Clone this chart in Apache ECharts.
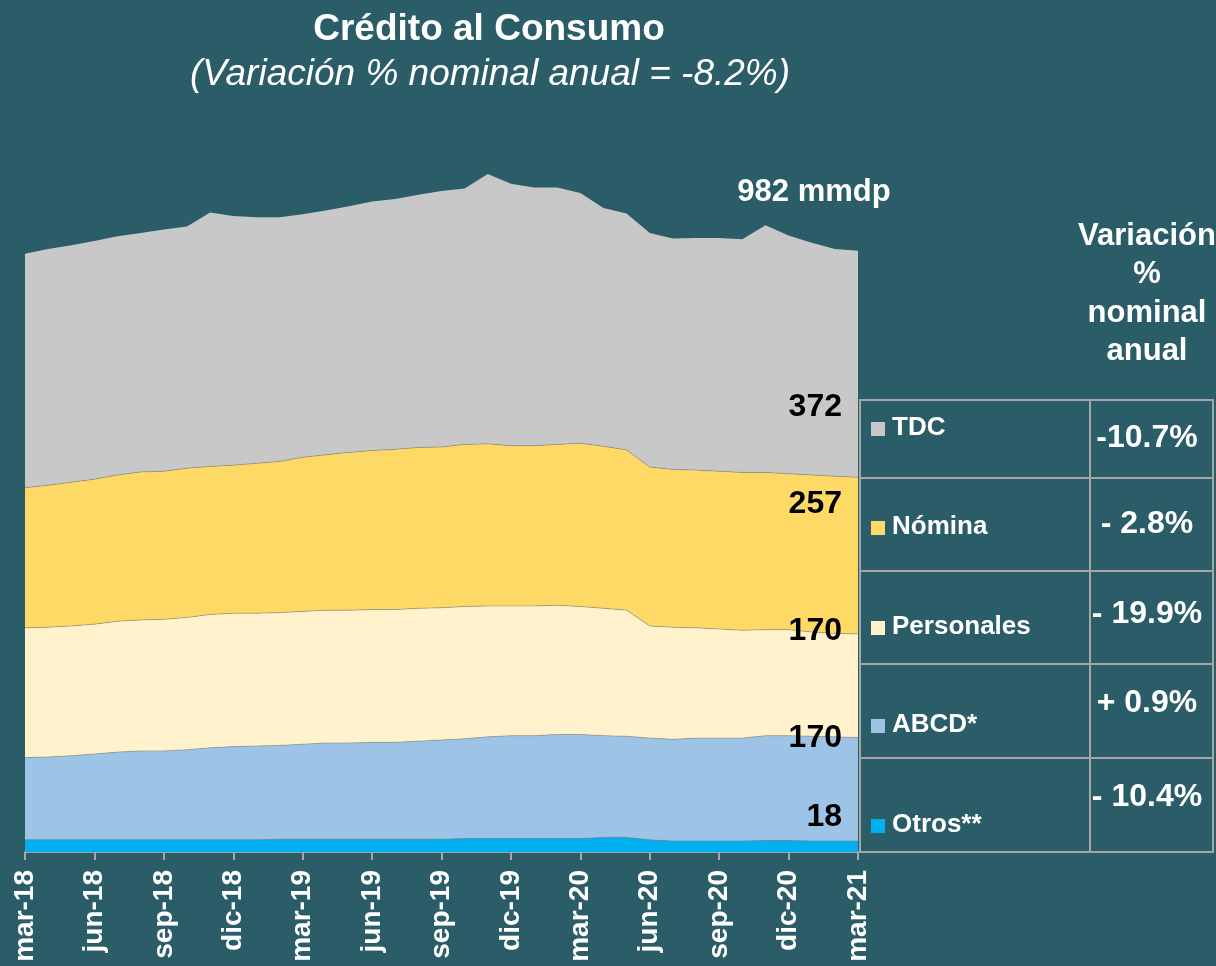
<!DOCTYPE html>
<html>
<head>
<meta charset="UTF-8">
<title>Crédito al Consumo</title>
<script src="https://cdn.jsdelivr.net/npm/echarts@6/dist/echarts.min.js"></script>
<style>
  html, body { margin: 0; padding: 0; background: #2b5d69; }
  #main { width: 1216px; height: 966px; }
</style>
</head>
<body>
<div id="main"></div>
<script>
// meses (mar-18 a mar-21)
const meses = [
  'mar-18', 'abr-18', 'may-18', 'jun-18', 'jul-18', 'ago-18', 'sep-18', 'oct-18', 'nov-18', 'dic-18',
  'ene-19', 'feb-19', 'mar-19', 'abr-19', 'may-19', 'jun-19', 'jul-19', 'ago-19', 'sep-19', 'oct-19', 'nov-19', 'dic-19',
  'ene-20', 'feb-20', 'mar-20', 'abr-20', 'may-20', 'jun-20', 'jul-20', 'ago-20', 'sep-20', 'oct-20', 'nov-20', 'dic-20',
  'ene-21', 'feb-21', 'mar-21'
];

// saldos en mmdp
const tdc = [384, 388, 389, 391, 392, 392, 397, 397, 417, 409, 404, 401, 399, 401, 404, 409, 411, 415, 420, 420,
  443, 430, 424, 422, 411, 391, 388, 384, 379, 381, 383, 383, 406, 391, 381, 373, 372];
const nomina = [230, 233, 236, 238, 240, 243, 243, 245, 243, 243, 246, 248, 253, 255, 259, 261, 263, 264, 264, 266,
  266, 263, 263, 264, 268, 266, 263, 261, 259, 259, 259, 259, 258, 256, 258, 258, 257];
const personales = [213, 213, 213, 213, 215, 215, 216, 217, 219, 219, 218, 218, 218, 218, 218, 218, 218, 218, 217, 217,
  215, 213, 213, 212, 210, 209, 207, 184, 184, 181, 179, 177, 174, 174, 171, 170, 170];
const abcd = [135, 136, 138, 141, 144, 146, 146, 148, 151, 153, 154, 154, 156, 158, 158, 159, 159, 161, 163, 164,
  167, 169, 169, 171, 171, 167, 166, 167, 167, 169, 169, 169, 172, 172, 172, 171, 170];
const otros = [20, 20, 20, 20, 20, 20, 20, 20, 20, 20, 20, 21, 21, 21, 21, 21, 21, 21, 21, 22,
  22, 22, 22, 22, 22, 24, 24, 20, 18, 18, 18, 18, 19, 19, 18, 18, 18];

const nombres = ['TDC', 'Nómina', 'Personales', 'ABCD*', 'Otros**'];
const variacion = ['-10.7%', '- 2.8%', '- 19.9%', '+ 0.9%', '- 10.4%'];
const totalTexto = '982 mmdp';
const titulo = 'Crédito al Consumo';
const subtitulo = '(Variación % nominal anual = -8.2%)';
const encabezado = ['Variación', '%', 'nominal', 'anual'];

const colores = ['#c8c8c8', '#ffd966', '#fff2cc', '#9dc3e6', '#00b0f0'];
const fuente = '"Liberation Sans", Arial, sans-serif';
const borde = '#a6a6a6';

var myChart = echarts.init(document.getElementById('main'));

// series de abajo hacia arriba
const capas = [
  { name: 'Otros**', data: otros, color: colores[4] },
  { name: 'ABCD*', data: abcd, color: colores[3] },
  { name: 'Personales', data: personales, color: colores[2] },
  { name: 'Nómina', data: nomina, color: colores[1] },
  { name: 'TDC', data: tdc, color: colores[0] }
];

const series = capas.map(function (c, i) {
  return {
    name: c.name,
    type: 'line',
    stack: 'total',
    data: c.data,
    symbol: 'none',
    lineStyle: { width: i === 4 ? 0 : 1, color: 'rgba(120,120,110,0.45)' },
    areaStyle: { color: c.color, opacity: 1 },
    itemStyle: { color: c.color },
    z: 2
  };
});

// textos y tabla
const graficos = [];
graficos.push({
  type: 'text', x: 489, y: 30,
  style: { text: titulo, fill: '#fff', font: 'bold 37px ' + fuente, textAlign: 'center', textVerticalAlign: 'middle' }
});
graficos.push({
  type: 'text', x: 490, y: 75,
  style: { text: subtitulo, fill: '#fff', font: 'italic 37px ' + fuente, textAlign: 'center', textVerticalAlign: 'middle' }
});
graficos.push({
  type: 'text', x: 814, y: 192,
  style: { text: totalTexto, fill: '#fff', font: 'bold 31px ' + fuente, textAlign: 'center', textVerticalAlign: 'middle' }
});
encabezado.forEach(function (t, i) {
  graficos.push({
    type: 'text', x: 1147, y: 236 + i * 38.5,
    style: { text: t, fill: '#fff', font: 'bold 31px ' + fuente, textAlign: 'center', textVerticalAlign: 'middle' }
  });
});

// etiquetas de valor al final de cada area
const ultimos = [tdc, nomina, personales, abcd, otros].map(function (s) { return s[s.length - 1]; });
const yEtiqueta = [407, 504, 631, 738, 817];
ultimos.forEach(function (v, i) {
  graficos.push({
    type: 'text', x: 842, y: yEtiqueta[i], z: 10,
    style: { text: String(v), fill: '#000', font: 'bold 32px ' + fuente, textAlign: 'right', textVerticalAlign: 'middle' }
  });
});

// tabla de leyenda y variaciones
const filas = [400, 478, 571, 664, 758, 852];
const yLeyenda = [428, 527, 627, 725, 825];
const yVariacion = [438, 524, 614, 703, 797];
for (let i = 0; i < 5; i++) {
  graficos.push({
    type: 'rect', shape: { x: 860, y: filas[i], width: 230, height: filas[i + 1] - filas[i] },
    style: { fill: 'none', stroke: borde, lineWidth: 2 }
  });
  graficos.push({
    type: 'rect', shape: { x: 1090, y: filas[i], width: 123, height: filas[i + 1] - filas[i] },
    style: { fill: 'none', stroke: borde, lineWidth: 2 }
  });
  graficos.push({
    type: 'rect', shape: { x: 871, y: yLeyenda[i] - 6, width: 14, height: 14 },
    style: { fill: colores[i] }
  });
  graficos.push({
    type: 'text', x: 892, y: yLeyenda[i],
    style: { text: nombres[i], fill: '#fff', font: 'bold 26px ' + fuente, textAlign: 'left', textVerticalAlign: 'middle' }
  });
  graficos.push({
    type: 'text', x: 1147, y: yVariacion[i],
    style: { text: variacion[i], fill: '#fff', font: 'bold 32px ' + fuente, textAlign: 'center', textVerticalAlign: 'middle' }
  });
}

var option = {
  backgroundColor: '#2b5d69',
  animation: false,
  grid: {
    left: 25, right: 358, top: 121, bottom: 114,
    containLabel: false, outerBoundsMode: 'none'
  },
  xAxis: {
    type: 'category',
    data: meses,
    boundaryGap: false,
    axisLine: { lineStyle: { color: borde, width: 2 } },
    axisTick: { interval: 2, length: 8, lineStyle: { color: borde, width: 2 } },
    axisLabel: {
      interval: 2, rotate: 90, margin: 18,
      color: '#fff', fontWeight: 'bold', fontSize: 28, fontFamily: fuente
    },
    splitLine: { show: false }
  },
  yAxis: {
    type: 'value', min: 0, max: 1200, show: false,
    splitLine: { show: false }
  },
  series: series,
  graphic: graficos
};

myChart.setOption(option);
</script>
</body>
</html>
